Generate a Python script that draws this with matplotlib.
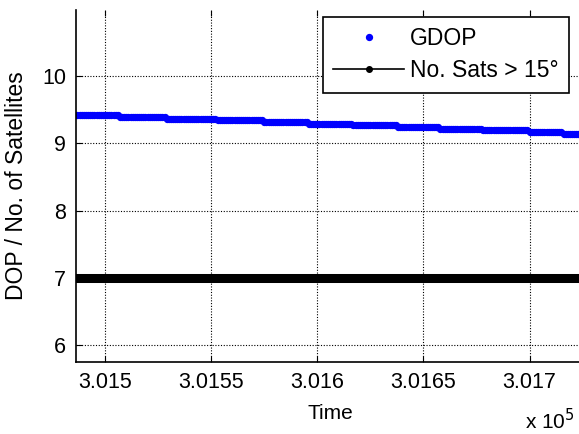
import numpy as np
import matplotlib.pyplot as plt

plt.rcParams['font.family'] = ['Liberation Sans', 'DejaVu Sans']

# GDOP is piecewise constant: level changes at these epochs (s)
step_times = [301486, 301507, 301529, 301553, 301575, 301596, 301617,
              301638, 301658, 301678, 301700, 301716, 301725]
gdop_levels = [9.415, 9.39, 9.365, 9.34, 9.315, 9.29, 9.265,
               9.24, 9.215, 9.19, 9.165, 9.135]
n_sats = 7

# one sample per second
t = np.arange(step_times[0], step_times[-1])
gdop = np.repeat(gdop_levels, np.diff(step_times))
sats = np.full(t.shape, n_sats)

fig = plt.figure(figsize=(5.79, 4.34), dpi=100)
ax = fig.add_axes([76/579, 1 - 362/434, 1.0 - 76/579 + 0.01, (362 - 10)/434])

ax.plot(t, gdop, '.', color='b', markersize=8.5, label='GDOP')
ax.plot(t, sats, '.-', color='k', markersize=8, linewidth=6.5, label='No. Sats > 15\u00b0')

ax.set_xlim(301486.3, 301726)
ax.set_ylim(5.75, 10.98)
ax.set_xticks([301500, 301550, 301600, 301650, 301700])
ax.set_xticklabels(['3.015', '3.0155', '3.016', '3.0165', '3.017'])
ax.set_yticks([6, 7, 8, 9, 10])

ax.grid(True, color='k', linestyle=(0, (1, 1.5)), linewidth=0.8)
ax.tick_params(direction='in', top=True, labelsize=15.5, length=4, width=0.8, pad=7)
ax.spines['top'].set_visible(False)
ax.spines['right'].set_visible(False)
for s in ('left', 'bottom'):
    ax.spines[s].set_linewidth(1.2)

ax.set_xlabel('Time', fontsize=15, labelpad=8)
ax.set_ylabel('DOP / No. of Satellites', fontsize=16.5, labelpad=10)
fig.text(525/579, 1 - 433/434, r'x 10$^5$', fontsize=15, ha='left', va='bottom')

leg = ax.legend(loc='upper right', bbox_to_anchor=(569/579, 1 - 17/434),
                bbox_transform=fig.transFigure, fontsize=16.5, fancybox=False,
                framealpha=1, edgecolor='k', borderpad=0.45, handlelength=3.1,
                handletextpad=0.26, labelspacing=0.4, borderaxespad=0)
leg.get_frame().set_linewidth(1.2)
leg.legend_handles[1].set_linewidth(1.2)

fig.savefig('out.png', dpi=100)
